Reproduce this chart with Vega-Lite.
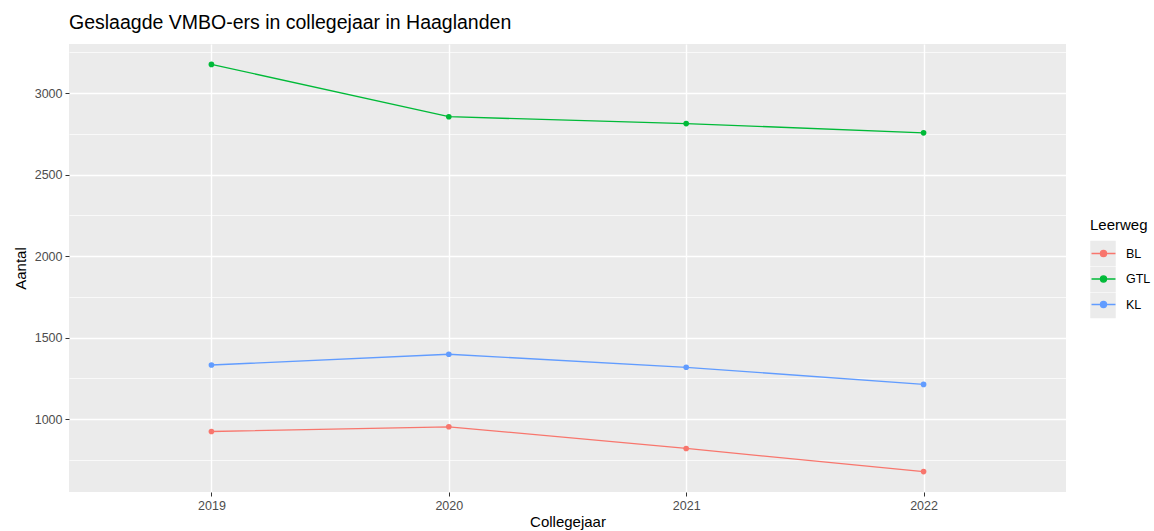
{
  "$schema": "https://vega.github.io/schema/vega-lite/v6.json",
  "width": 997,
  "height": 448,
  "autosize": "none",
  "padding": {"left": 69, "top": 44, "right": 88, "bottom": 39},
  "background": "white",
  "title": {
    "text": "Geslaagde VMBO-ers in collegejaar in Haaglanden",
    "anchor": "start",
    "frame": "group",
    "font": "Liberation Sans",
    "fontSize": 19.5,
    "fontWeight": "normal",
    "color": "black",
    "offset": 11
  },
  "data": {
    "values": [
      {"Collegejaar": "2019", "Leerweg": "BL", "Aantal": 924},
      {"Collegejaar": "2020", "Leerweg": "BL", "Aantal": 953},
      {"Collegejaar": "2021", "Leerweg": "BL", "Aantal": 820},
      {"Collegejaar": "2022", "Leerweg": "BL", "Aantal": 678},
      {"Collegejaar": "2019", "Leerweg": "GTL", "Aantal": 3176},
      {"Collegejaar": "2020", "Leerweg": "GTL", "Aantal": 2855},
      {"Collegejaar": "2021", "Leerweg": "GTL", "Aantal": 2813},
      {"Collegejaar": "2022", "Leerweg": "GTL", "Aantal": 2756},
      {"Collegejaar": "2019", "Leerweg": "KL", "Aantal": 1332},
      {"Collegejaar": "2020", "Leerweg": "KL", "Aantal": 1398},
      {"Collegejaar": "2021", "Leerweg": "KL", "Aantal": 1318},
      {"Collegejaar": "2022", "Leerweg": "KL", "Aantal": 1213}
    ]
  },
  "encoding": {
    "x": {
      "field": "Collegejaar",
      "type": "ordinal",
      "scale": {"type": "point", "padding": 0.6},
      "axis": {
        "title": "Collegejaar",
        "labelAngle": 0,
        "labelPadding": 3,
        "titlePadding": 3,
        "grid": true,
        "gridColor": "white",
        "gridWidth": 1.4
      }
    },
    "y": {
      "field": "Aantal",
      "type": "quantitative",
      "scale": {"domain": [553, 3301], "nice": false, "zero": false},
      "axis": {
        "title": "Aantal",
        "values": [750, 1000, 1250, 1500, 1750, 2000, 2250, 2500, 2750, 3000, 3250],
        "labelExpr": "datum.value % 500 === 0 ? datum.label : ''",
        "format": "d",
        "gridColor": "white",
        "gridWidth": {"condition": {"test": "datum.value % 500 === 0", "value": 1.4}, "value": 0.7},
        "tickOpacity": {"condition": {"test": "datum.value % 500 === 0", "value": 1}, "value": 0},
        "labelPadding": 3,
        "titlePadding": 6
      }
    }
  },
  "layer": [
    {
      "mark": {"type": "point", "filled": true, "size": 1, "opacity": 0, "shape": "square"},
      "encoding": {
        "fill": {
          "field": "Leerweg",
          "type": "nominal",
          "scale": {"range": ["#EBEBEB", "#EBEBEB", "#EBEBEB"]},
          "legend": {
            "title": null,
            "orient": "none",
            "legendX": 1021,
            "legendY": 196.5,
            "zindex": 0,
            "labelExpr": "''",
            "labelFont": "Liberation Sans",
            "labelFontSize": 12.5,
            "labelOffset": 9,
            "symbolType": "square",
            "symbolSize": 650,
            "symbolStrokeWidth": 0,
            "symbolOpacity": 1,
            "rowPadding": 0,
            "padding": 0,
            "encode": {
              "symbols": {
                "update": {
                  "strokeWidth": {"value": 0},
                  "opacity": {"value": 1}
                }
              }
            }
          }
        }
      }
    },
    {
      "mark": {"type": "line", "strokeWidth": 1.3},
      "encoding": {
        "color": {
          "field": "Leerweg",
          "type": "nominal",
          "scale": {"domain": ["BL", "GTL", "KL"], "range": ["#F8766D", "#00BA38", "#619CFF"]},
          "legend": {
            "title": "Leerweg",
            "orient": "none",
            "legendX": 1021,
            "legendY": 174,
            "zindex": 1,
            "titleFont": "Liberation Sans",
            "titleFontSize": 15,
            "titleFontWeight": "normal",
            "titleColor": "black",
            "titlePadding": 7,
            "labelFont": "Liberation Sans",
            "labelFontSize": 12.5,
            "labelColor": "black",
            "labelOffset": 9,
            "symbolType": "M-0.94,0H0.94M-0.24,0A0.24,0.24,0,1,0,0.24,0A0.24,0.24,0,1,0,-0.24,0Z",
            "symbolSize": 650,
            "symbolStrokeWidth": 1.3,
            "symbolOpacity": 1,
            "rowPadding": 5.5,
            "padding": 0,
            "encode": {
              "symbols": {
                "update": {
                  "fill": {"scale": "color", "field": "value"},
                  "stroke": {"scale": "color", "field": "value"},
                  "opacity": {"value": 1}
                }
              }
            }
          }
        }
      }
    },
    {
      "mark": {"type": "point", "filled": true, "size": 32, "opacity": 1},
      "encoding": {
        "color": {"field": "Leerweg", "type": "nominal"}
      }
    }
  ],
  "config": {
    "view": {"fill": "#EBEBEB", "stroke": null},
    "axis": {
      "domain": false,
      "labelFont": "Liberation Sans",
      "labelFontSize": 12.5,
      "labelColor": "#4D4D4D",
      "titleFont": "Liberation Sans",
      "titleFontSize": 15,
      "titleFontWeight": "normal",
      "titleColor": "black",
      "tickColor": "#333333",
      "tickSize": 4,
      "tickWidth": 1
    }
  }
}
